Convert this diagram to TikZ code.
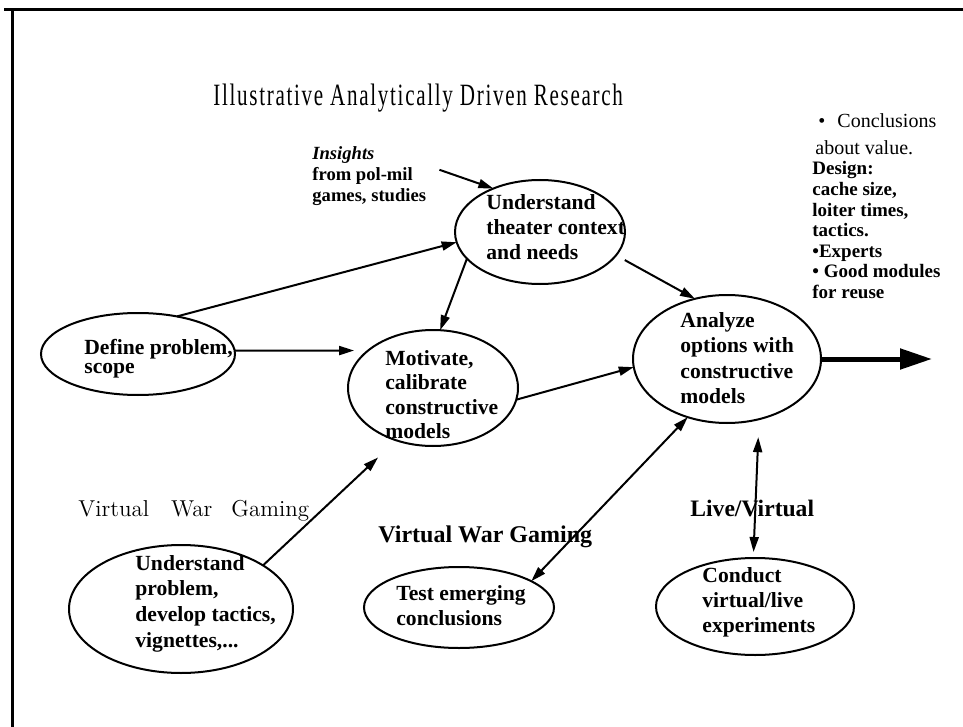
\documentclass[tikz,border=0pt]{standalone}
\usepackage{graphicx}
\usepackage{fontspec}
\setmainfont{Liberation Serif}
\usetikzlibrary{shapes.geometric,arrows.meta}
\newcommand{\ovalfont}[1]{\bfseries\fontsize{10.8}{#1}\selectfont}
\newcommand{\lines}[1]{\begin{tabular}[t]{@{}l@{}}#1\end{tabular}}

\begin{document}
\begin{tikzpicture}[x=0.5pt,y=-0.5pt,
  oval/.style={draw,ellipse,line width=1pt,inner sep=0pt,outer sep=0pt},
  txt/.style={anchor=base west,inner sep=0pt},
  link/.style={-{Triangle[length=7.5pt,width=4.5pt]},line width=1pt},
  twoway/.style={{Triangle[length=7.5pt,width=4.5pt]}-{Triangle[length=7.5pt,width=4.5pt]},line width=1pt}]
\useasboundingbox (0,0) rectangle (963,727);
% frame
\draw[line width=1.5pt] (4,10) -- (963,10);
\draw[line width=1.5pt] (12,10) -- (12,727);

% title and side notes
\node[txt,font=\fontsize{15.5}{18}\selectfont] (title) at (213,106)
  {\scalebox{0.68}[1]{\addfontfeature{LetterSpace=8}Illustrative Analytically Driven Research}};
\node[txt,font=\fontsize{10}{13}\selectfont] (concl) at (818,128) {\textbullet\hspace{6pt}Conclusions};
\node[txt,font=\fontsize{10}{13}\selectfont] (value) at (815,155) {about value.};
\node[txt,font=\bfseries\fontsize{9.5}{10.3}\selectfont] (design) at (812,175)
  {\lines{Design:\\cache size,\\loiter times,\\tactics.\\\textbullet Experts\\\textbullet\ Good modules\\for reuse}};
\node[txt,font=\bfseries\fontsize{9.3}{10.5}\selectfont] (insights) at (312,160)
  {\lines{\textit{Insights}\\from pol-mil\\games, studies}};

% ovals
\node[oval,minimum width=97pt,minimum height=41pt] (define) at (138,354) {};
\node[oval,minimum width=85pt,minimum height=52pt] (theater) at (540,232) {};
\node[oval,minimum width=85pt,minimum height=58pt] (motivate) at (433,388) {};
\node[oval,minimum width=94pt,minimum height=64pt] (analyze) at (727,359) {};
\node[oval,minimum width=112pt,minimum height=64pt] (problem) at (181,609) {};
\node[oval,minimum width=95pt,minimum height=40.5pt] (test) at (459,607.5) {};
\node[oval,minimum width=99pt,minimum height=48.5pt] (conduct) at (755,606.5) {};

\node[txt,font={\ovalfont{9.5pt}}] (define-txt) at (84,354) {\lines{Define problem,\\scope}};
\node[txt,font={\ovalfont{12.5pt}}] (theater-txt) at (486,210) {\lines{Understand\\theater context\\and needs}};
\node[txt,font={\ovalfont{12.3pt}}] (motivate-txt) at (385,365) {\lines{Motivate,\\calibrate\\constructive\\models}};
\node[txt,font={\ovalfont{12.8pt}}] (analyze-txt) at (680,327) {\lines{Analyze\\options with\\constructive\\models}};
\node[txt,font={\ovalfont{12.9pt}}] (problem-txt) at (135,570) {\lines{Understand\\problem,\\develop tactics,\\vignettes,...}};
\node[txt,font={\ovalfont{12.5pt}}] (test-txt) at (396,600) {\lines{Test emerging\\conclusions}};
\node[txt,font={\ovalfont{12.7pt}}] (conduct-txt) at (702,582) {\lines{Conduct\\virtual/live\\experiments}};

% gaming labels
\node[txt,font=\fontfamily{lmr}\selectfont\fontsize{11.5}{14}\selectfont] (vwg-left) at (78,516)
  {Virtual\hspace{11pt}War\hspace{9.5pt}Gaming};
\node[txt,font=\bfseries\fontsize{12}{14}\selectfont] (vwg) at (378,542) {Virtual War Gaming};
\node[txt,font=\bfseries\fontsize{11.8}{14}\selectfont] (livevirtual) at (690,516) {Live/Virtual};

% connectors
\draw[link] ([xshift=6.5pt,yshift=3.5pt]insights.east) -- (theater.137);
\draw[link] (define.44) -- (theater.187);
\draw[link,shorten >=7pt] (define.2) -- (motivate.150);
\draw[link] (theater.200) -- (motivate.83);
\draw[link,shorten <=5pt] (theater.-17) -- (analyze.118);
\draw[link] (motivate.-8) -- (analyze.185);
\draw[link,shorten >=12.5pt] (problem.28) -- (motivate.235);
\draw[twoway] (analyze.236) -- (test.20);
\draw[twoway,shorten <=9pt,shorten >=3pt] (analyze.298) -- (conduct.92);
\coordinate (outlet) at (932,359);
\draw[line width=2.5pt,-{Triangle[length=16pt,width=10pt]}] (analyze.east) -- (outlet);
\end{tikzpicture}
\end{document}
